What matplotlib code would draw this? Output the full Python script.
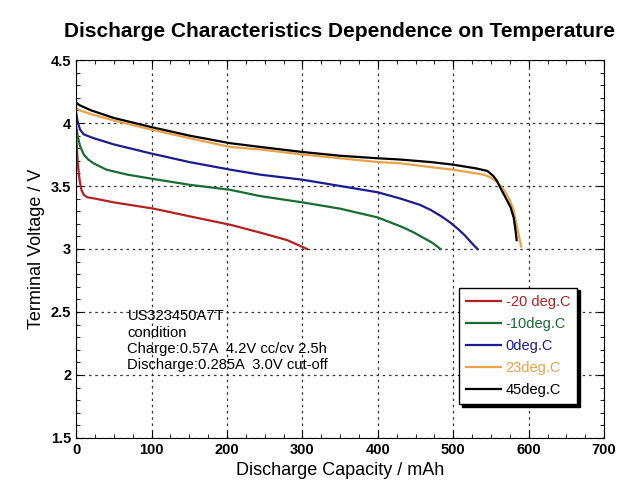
import matplotlib
matplotlib.use("Agg")
import matplotlib.pyplot as plt
from matplotlib.ticker import MultipleLocator

plt.rcParams['font.family'] = ['Liberation Sans', 'DejaVu Sans']

# discharge curves (capacity mAh, voltage V)
cap_m20 = [0, 1, 2, 3.5, 5, 7, 10, 15, 25, 50, 103, 150, 206, 244, 280, 306]
volt_m20 = [3.90, 3.80, 3.70, 3.60, 3.53, 3.47, 3.43, 3.41, 3.40, 3.37, 3.32, 3.26, 3.19, 3.13, 3.07, 3.00]

cap_m10 = [0, 2, 5, 10, 16, 23, 40, 68, 98, 150, 204, 244, 300, 350, 400, 434, 448, 460, 472, 483]
volt_m10 = [3.97, 3.90, 3.82, 3.75, 3.71, 3.68, 3.63, 3.59, 3.56, 3.51, 3.47, 3.42, 3.37, 3.32, 3.25, 3.17, 3.13, 3.09, 3.05, 3.00]

cap_0 = [0, 2, 5, 10, 23, 50, 98, 150, 204, 244, 300, 350, 400, 430, 456, 470, 484, 496, 506, 515, 524, 532]
volt_0 = [4.08, 4.01, 3.95, 3.91, 3.88, 3.83, 3.76, 3.69, 3.63, 3.59, 3.55, 3.50, 3.45, 3.40, 3.35, 3.31, 3.26, 3.21, 3.16, 3.11, 3.05, 3.00]

cap_23 = [0, 5, 20, 50, 98, 150, 204, 244, 300, 350, 400, 430, 470, 499, 530, 540, 549, 558, 566, 574, 580, 586, 590]
volt_23 = [4.12, 4.10, 4.07, 4.02, 3.95, 3.88, 3.81, 3.79, 3.75, 3.72, 3.69, 3.68, 3.65, 3.63, 3.60, 3.59, 3.57, 3.53, 3.48, 3.40, 3.31, 3.13, 3.02]

cap_45 = [0, 5, 20, 50, 98, 150, 204, 244, 300, 350, 400, 430, 470, 499, 530, 545, 553, 558, 562, 570, 576, 580, 582, 584]
volt_45 = [4.16, 4.14, 4.10, 4.04, 3.97, 3.90, 3.84, 3.81, 3.77, 3.74, 3.72, 3.71, 3.69, 3.67, 3.64, 3.62, 3.58, 3.54, 3.49, 3.40, 3.33, 3.25, 3.17, 3.07]

labels = ['-20 deg.C', '-10deg.C', '0deg.C', '23deg.C', '45deg.C']
colors = ['#b22222', '#1b6b35', '#1c1c8e', '#e8a24a', '#000000']

fig = plt.figure(figsize=(6.4, 4.96), dpi=100)
ax = fig.add_axes([0.119, 0.117, 0.825, 0.762])

series = [(cap_m20, volt_m20), (cap_m10, volt_m10), (cap_0, volt_0),
          (cap_23, volt_23), (cap_45, volt_45)]
for (x, y), lab, c in zip(series, labels, colors):
    ax.plot(x, y, color=c, lw=1.6, label=lab)

ax.set_xlim(0, 700)
ax.set_ylim(1.5, 4.5)
ax.xaxis.set_major_locator(MultipleLocator(100))
ax.xaxis.set_minor_locator(MultipleLocator(25))
ax.yaxis.set_major_locator(MultipleLocator(0.5))
ax.yaxis.set_minor_locator(MultipleLocator(0.1))
ax.set_yticks([1.5, 2, 2.5, 3, 3.5, 4, 4.5])
ax.set_yticklabels(['1.5', '2', '2.5', '3', '3.5', '4', '4.5'])
ax.tick_params(which='both', direction='in', top=True, right=True, labelsize=10.5)
ax.tick_params(which='major', length=5)
ax.tick_params(which='minor', length=3)
for t in ax.get_xticklabels() + ax.get_yticklabels():
    t.set_fontweight('bold')
ax.grid(True, which='major', linestyle=(0, (2, 3)), color='#333333', lw=0.9)

ax.set_xlabel('Discharge Capacity / mAh', fontsize=13)
ax.set_ylabel('Terminal Voltage / V', fontsize=13)
fig.suptitle('Discharge Characteristics Dependence on Temperature',
             fontsize=15, fontweight='bold', x=0.53, y=0.955)

ax.text(68, 2.52, 'US323450A7T\ncondition\nCharge:0.57A  4.2V cc/cv 2.5h\n'
        'Discharge:0.285A  3.0V cut-off', fontsize=10.6, va='top', ha='left',
        linespacing=1.2)

leg = ax.legend(loc='lower right', bbox_to_anchor=(0.963, 0.07), fontsize=10.5,
                fancybox=False, shadow={'color': 'black', 'alpha': 1},
                framealpha=1, edgecolor='black', handlelength=2.4,
                handletextpad=0.3, labelspacing=0.55, borderpad=0.5)
for txt, c in zip(leg.get_texts(), colors):
    txt.set_color(c)

fig.savefig('out.png', dpi=100)
